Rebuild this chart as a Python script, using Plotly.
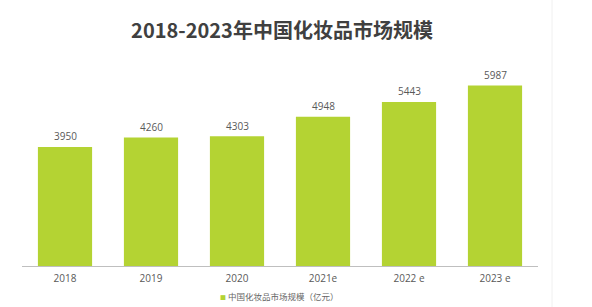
import plotly.graph_objects as go

categories = ["2018", "2019", "2020", "2021e", "2022 e", "2023 e"]
values = [3950, 4260, 4303, 4948, 5443, 5987]
series_name = "中国化妆品市场规模（亿元）"
title_text = "2018-2023年中国化妆品市场规模"

bar_color = "#b4d333"
cjk_font = "Noto Sans CJK SC, Noto Sans, sans-serif"
num_font = "Open Sans, Noto Sans, sans-serif"

fig = go.Figure()
fig.add_trace(go.Bar(
    x=categories, y=values, name=series_name,
    marker=dict(color=bar_color, line=dict(width=0)),
    showlegend=False,
))

# value labels: category index positions on the category axis
annotations = [dict(x=i, y=v, xref="x", yref="y", text=str(v), showarrow=False,
                    yanchor="middle", yshift=10.5,
                    font=dict(size=10, color="#595959", family=num_font))
               for i, v in enumerate(values)]
annotations.append(dict(
    text='<span style="color:%s;font-size:6px">■</span> %s' % (bar_color, series_name),
    xref="paper", yref="paper", x=(279 - 22) / 516, xanchor="center",
    y=-30 / 211, yanchor="middle", showarrow=False,
    font=dict(size=8.5, color="#666666", family=cjk_font)))

fig.update_layout(
    width=592, height=307,
    margin=dict(l=22, r=54, t=55, b=41, autoexpand=False),
    paper_bgcolor="white", plot_bgcolor="white",
    bargap=0.37,
    showlegend=False,
    title=dict(text="<b>" + title_text + "</b>", x=282 / 592, xanchor="center",
               y=1 - 31 / 307, yanchor="middle",
               font=dict(size=20, color="#404040", family=cjk_font)),
    xaxis=dict(type="category", showline=True, linecolor="#bfbfbf", linewidth=1, ticks="",
               ticklabelstandoff=3, range=[-0.5, len(categories) - 0.5],
               tickfont=dict(size=10, color="#595959", family=num_font),
               showgrid=False, fixedrange=True),
    yaxis=dict(range=[0, 7000], visible=False, showgrid=False, fixedrange=True),
    annotations=annotations,
    shapes=[dict(type="line", xref="paper", yref="paper", x0=(552 - 22) / 516, x1=(552 - 22) / 516,
                 y0=-0.2, y1=1.27, line=dict(color="#f0f0f0", width=1))],
)

fig.write_html("out.html")
